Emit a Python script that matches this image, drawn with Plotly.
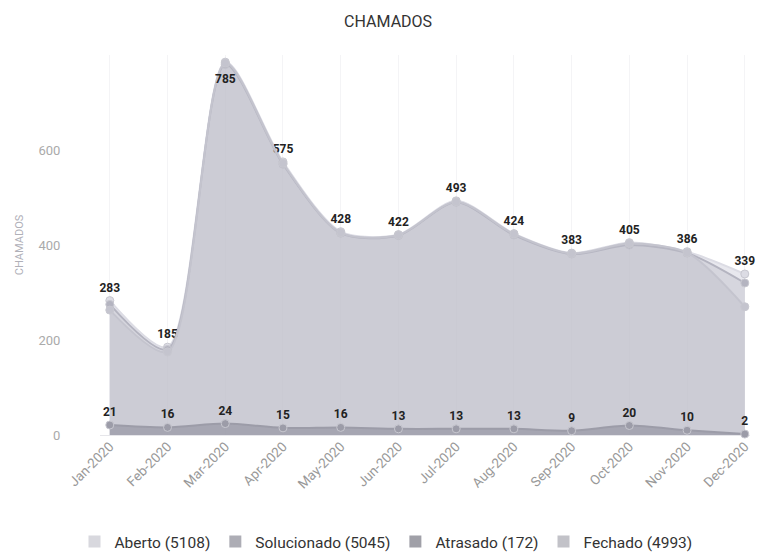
import plotly.graph_objects as go

months = ["Jan-2020", "Feb-2020", "Mar-2020", "Apr-2020", "May-2020", "Jun-2020",
          "Jul-2020", "Aug-2020", "Sep-2020", "Oct-2020", "Nov-2020", "Dec-2020"]
aberto = [283, 185, 785, 575, 428, 422, 493, 424, 383, 405, 386, 339]
solucionado = [275, 180, 780, 570, 425, 420, 490, 421, 381, 400, 383, 320]
atrasado = [21, 16, 24, 15, 16, 13, 13, 13, 9, 20, 10, 2]
fechado = [263, 175, 783, 572, 426, 421, 491, 423, 382, 403, 384, 270]
names = ["Aberto", "Solucionado", "Atrasado", "Fechado"]
series = [aberto, solucionado, atrasado, fechado]
totals = [sum(s) for s in series]

FONT = "Roboto, DejaVu Sans, sans-serif"
line_cols = ["#dcdce4", "#b4b4c0", "#9c9ca8", "#c4c4ce"]
fill_cols = ["rgba(214,214,224,0.55)", "rgba(180,180,192,0.35)",
             "rgba(150,150,162,0.7)", "rgba(186,186,198,0.35)"]
legend_cols = ["#d8d8de", "#adadb5", "#a0a0a8", "#c2c2c8"]
x = list(range(len(months)))
LABEL_FONT = dict(family=FONT, size=12, color="#222222", weight="bold")

fig = go.Figure()
draw_order = [0, 1, 3, 2]
for i in draw_order:
    s = series[i]
    labeled = i in (0, 2)
    fig.add_trace(go.Scatter(
        x=x, y=s, mode="lines+markers+text" if labeled else "lines+markers",
        line=dict(shape="spline", smoothing=0.8, color=line_cols[i], width=2),
        fill="tozeroy", fillcolor=fill_cols[i],
        marker=dict(size=8, color=line_cols[i], line=dict(color="#c8c8d0", width=1)),
        text=[(str(v) if v < 700 else "") for v in s] if labeled else None,
        textposition="top center",
        textfont=LABEL_FONT,
        showlegend=False, cliponaxis=False, hoverinfo="skip",
    ))

# peak label placed inside the plot, below the point
for xi, v in zip(x, aberto):
    if v >= 700:
        fig.add_annotation(x=xi, y=v, text=str(v), showarrow=False, yshift=-17,
                           font=LABEL_FONT)

for i in range(4):
    fig.add_trace(go.Scatter(
        x=[None], y=[None], mode="markers",
        marker=dict(symbol="square", size=18, color=legend_cols[i]),
        name=f"{names[i]} ({totals[i]})",
    ))

fig.update_layout(
    width=758, height=554,
    margin=dict(l=100, r=8, t=55, b=119, autoexpand=False),
    paper_bgcolor="white", plot_bgcolor="white",
    title=dict(text="CHAMADOS", x=0.512, xanchor="center", yref="container",
               y=1 - 21 / 554, yanchor="middle", automargin=False,
               font=dict(family=FONT, size=16, color="#333333")),
    xaxis=dict(tickmode="array", tickvals=x, ticktext=months, range=[-0.17, 11.09],
               tickangle=-45, showgrid=True, gridcolor="#f4f4f6", zeroline=False,
               automargin=False,
               tickfont=dict(family=FONT, size=13.5, color="#999999"), showline=False),
    yaxis=dict(range=[0, 800], tickvals=[0, 200, 400, 600], showgrid=False,
               zeroline=True, zerolinecolor="#e6e6ea", zerolinewidth=1,
               automargin=False, ticks="outside", ticklen=36,
               tickcolor="rgba(0,0,0,0)",
               tickfont=dict(family=FONT, size=13, color="#aaaaaa"),
               title=dict(text="CHAMADOS", font=dict(family=FONT, size=11, color="#b0b0b8"),
                          standoff=12)),
    legend=dict(orientation="h", x=0.44, xanchor="center", yref="container", y=1 - 542 / 554,
                yanchor="middle", font=dict(family=FONT, size=15.5, color="#333333"),
                itemsizing="constant", itemwidth=30),
)

fig.write_html("out.html", config={"displayModeBar": False},
               post_script="document.body.style.margin='0';document.body.style.overflow='hidden';")
